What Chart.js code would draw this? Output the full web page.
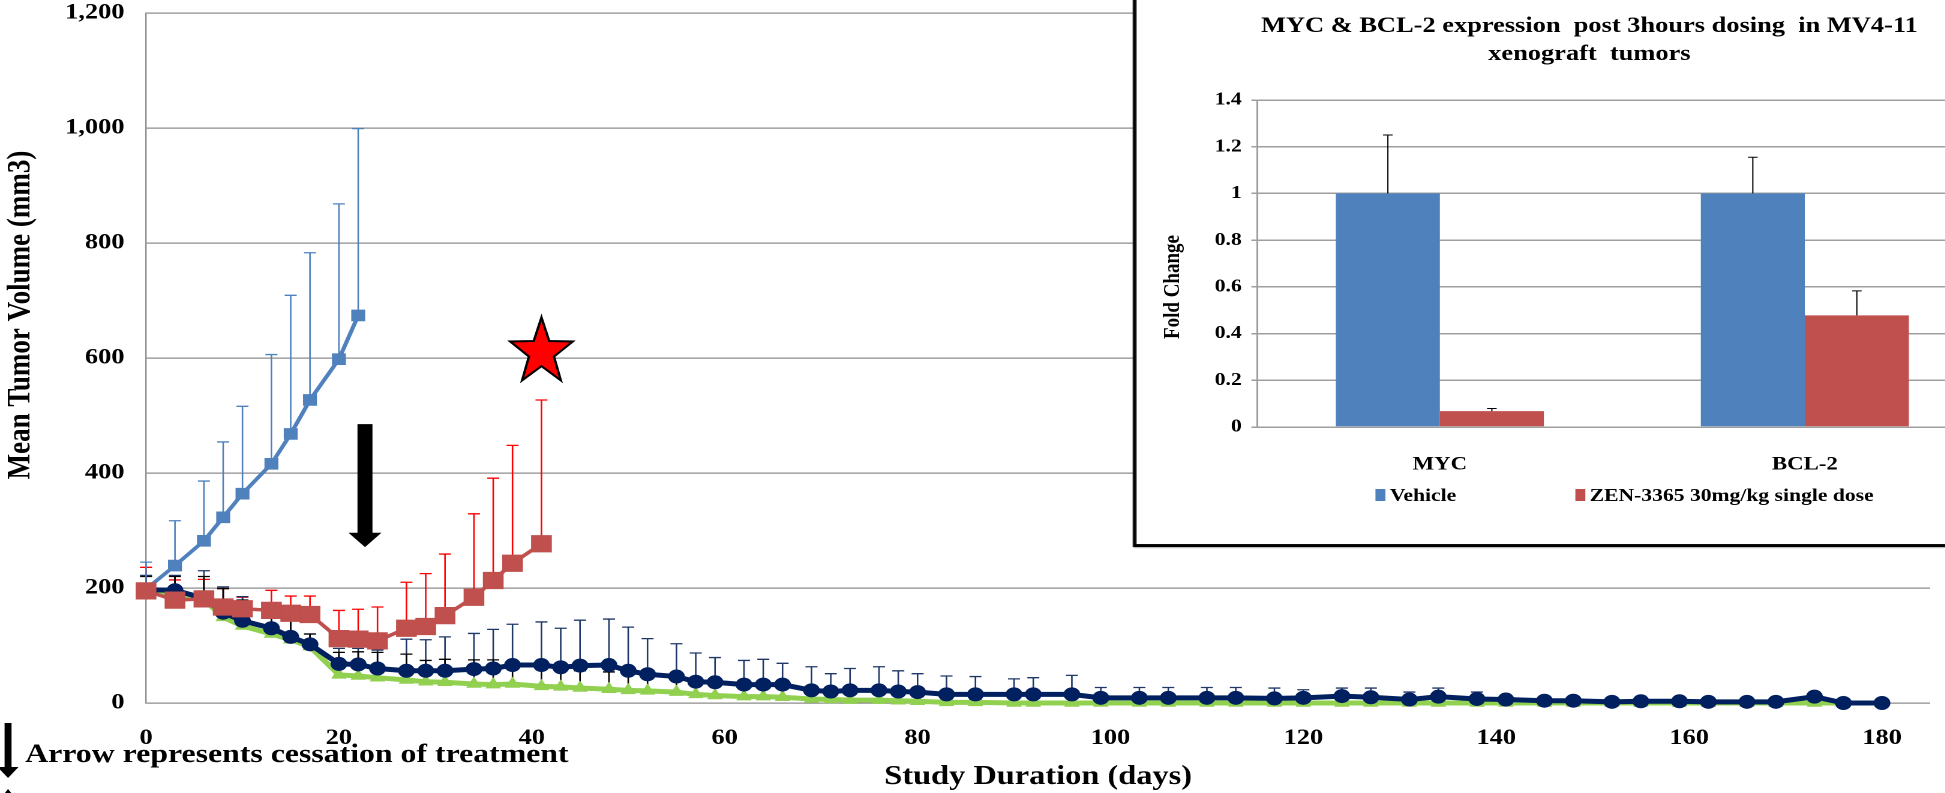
<!DOCTYPE html>
<html>
<head>
<meta charset="utf-8">
<script src="https://cdn.jsdelivr.net/npm/chart.js@4.4.1/dist/chart.umd.min.js"></script>
<style>
  html, body { margin: 0; padding: 0; background: #fff; overflow: hidden; }
  /* the original figure is stretched sideways, so the whole drawing is too */
  #wrap { position: relative; width: 1621px; height: 793px; transform: scaleX(1.2); transform-origin: 0 0; }
  #main { position: absolute; left: 0; top: 0; width: 1621px; height: 793px; }
  #insetBox { position: absolute; left: 944px; top: -3px; width: 800px; height: 550px; box-sizing: border-box;
              border: 3px solid #000; background: #fff; box-shadow: 1px 1px 1px #bbb; }
  #inset { position: absolute; left: 947px; top: 0; width: 720px; height: 544px; }
</style>
</head>
<body>
<div id="wrap">
  <canvas id="main" width="1621" height="793"></canvas>
  <div id="insetBox"></div>
  <canvas id="inset" width="720" height="544"></canvas>
</div>
<script>
const FONT = '"Liberation Serif", "Times New Roman", serif';

// main chart: tumour volume over time
const vehicleDays = [0, 3, 6, 8, 10, 13, 15, 17, 20, 22];
const vehicleMean = [198, 239, 282, 323, 364, 416, 468, 527, 598, 674];
const vehicleSem = [47, 78, 104, 131, 152, 190, 241, 256, 270, 325];

const zenDays = [0, 3, 6, 8, 10, 13, 15, 17, 20, 22, 24, 27, 29, 31, 34, 36, 38, 41];
const zenMean = [195, 179, 181, 167, 164, 161, 156, 154, 112, 111, 108, 130, 133, 152, 184, 213, 243, 277];
const zenSem = [41, 35, 34, 32, 20, 35, 30, 32, 49, 52, 59, 80, 92, 107, 145, 178, 205, 250];

const longDays = [0, 3, 6, 8, 10, 13, 15, 17, 20, 22,
  24, 27, 29, 31, 34, 36, 38, 41, 43, 45,
  48, 50, 52, 55, 57, 59, 62, 64, 66, 69,
  71, 73, 76, 78, 80, 83, 86, 90, 92, 96,
  99, 103, 106, 110, 113, 117, 120, 124, 127, 131,
  134, 138, 141, 145, 148, 152, 155, 159, 162, 166,
  169, 173, 176, 180];
const navyMean = [197, 196, 182, 157, 143, 130, 115, 102, 68, 67,
  60, 56, 56, 56, 59, 60, 66, 66, 62, 65,
  66, 56, 50, 46, 37, 36, 32, 32, 32, 22,
  20, 22, 22, 20, 19, 15, 15, 15, 15, 15,
  9, 9, 9, 9, 9, 8, 9, 12, 10, 6,
  11, 7, 6, 4, 4, 2, 3, 3, 2, 2,
  2, 11, 0, 0];
const navySem = [25, 26, 48, 45, 42, 40, 45, 18, 27, 28,
  32, 55, 54, 59, 62, 68, 71, 75, 68, 79,
  80, 76, 62, 57, 50, 43, 42, 44, 37, 41,
  31, 38, 41, 36, 32, 32, 31, 27, 29, 33,
  18, 18, 18, 18, 18, 18, 14, 14, 16, 13,
  15, 12, 4, 4, 4, 4, 4, 4, 4, 4,
  4, 8, 3, 3];
const greenMean = [195, 190, 180, 149, 134, 120, 110, 98, 49, 47,
  44, 40, 37, 36, 33, 32, 33, 29, 28, 26,
  24, 22, 21, 19, 15, 13, 11, 11, 10, 7,
  6, 5, 5, 4, 3, 1, 1, 0, 0, 0,
  0, 0, 0, 0, 0, 0, 0, 0, 0, 0,
  0, 0, 0, 0, 0, 0, 0, 0, 0, 0,
  0, 0, 0, 0];
const greenSem = [25, 30, 40, 50, 45, 40, 40, 22, 39, 42,
  44, 45, 37, 40, 42, 43, 30, 30, 28, 30,
  30, 28, 26, 24, 22, 20, 18, 18, 16, 14,
  12, 12, 10, 10, 8, 6, 5, 2, 2, 2,
  2, 2, 2, 2, 2, 2, 2, 2, 2, 2,
  2, 2, 2, 2, 2, 2, 2, 2, 2, 2,
  2, 2, 2, 2];

const xTicks = [0, 20, 40, 60, 80, 100, 120, 140, 160, 180];
const yTicks = [0, 200, 400, 600, 800, 1000, 1200];

// annotations, in data units
const stopDay = 22.7;          // big arrow: treatment stopped
const arrowTop = 485, arrowNeck = 296, arrowTip = 271;
const starDay = 41, starValue = 610;

// inset: fold change bars
const geneLabels = ['MYC', 'BCL-2'];
const vehicleFold = [1.0, 1.0];
const vehicleFoldErr = [0.25, 0.155];
const zenFold = [0.068, 0.478];
const zenFoldErr = [0.011, 0.105];
const foldTicks = [0, 0.2, 0.4, 0.6, 0.8, 1, 1.2, 1.4];

function toPoints(days, vals) {
  return days.map((d, i) => ({x: d, y: vals[i]}));
}

const lineErrors = {
  id: 'lineErrors',
  beforeDatasetsDraw(chart) {
    const {ctx, scales: {x, y}} = chart;
    chart.data.datasets.forEach(ds => {
      if (!ds.errors) return;
      ctx.save();
      ctx.strokeStyle = ds.errorColor;
      ctx.lineWidth = 1.3;
      ds.data.forEach((p, i) => {
        const e = ds.errors[i];
        if (!e) return;
        const px = x.getPixelForValue(p.x);
        const py = y.getPixelForValue(p.y);
        const top = y.getPixelForValue(p.y + e);
        ctx.beginPath();
        ctx.moveTo(px, py); ctx.lineTo(px, top);
        ctx.moveTo(px - 5, top); ctx.lineTo(px + 5, top);
        ctx.stroke();
      });
      ctx.restore();
    });
  }
};

function downArrow(ctx, cx, top, neck, tip, shaftW, headW) {
  ctx.beginPath();
  ctx.moveTo(cx - shaftW / 2, top);
  ctx.lineTo(cx + shaftW / 2, top);
  ctx.lineTo(cx + shaftW / 2, neck);
  ctx.lineTo(cx + headW / 2, neck);
  ctx.lineTo(cx, tip);
  ctx.lineTo(cx - headW / 2, neck);
  ctx.lineTo(cx - shaftW / 2, neck);
  ctx.closePath();
  ctx.fill();
}

const mainDecor = {
  id: 'mainDecor',
  afterDraw(chart) {
    const {ctx, scales: {x, y}} = chart;
    ctx.save();
    ctx.fillStyle = '#000';
    ctx.font = 'bold 27px ' + FONT;

    // y title
    ctx.save();
    ctx.translate(17.5, 315);
    ctx.rotate(-Math.PI / 2);
    ctx.textAlign = 'center';
    ctx.textBaseline = 'middle';
    ctx.fillText('Mean Tumor Volume (mm3)', 0, 0);
    ctx.restore();

    // note under the axis
    ctx.font = 'bold 26.5px ' + FONT;
    ctx.textAlign = 'left';
    ctx.textBaseline = 'alphabetic';
    ctx.fillText('Arrow represents cessation of treatment', 21, 762);
    downArrow(ctx, 6.7, 723, 767, 778, 5.8, 17.5);
    ctx.beginPath();
    ctx.moveTo(6.7, 789); ctx.lineTo(10, 794); ctx.lineTo(3.4, 794); ctx.closePath();
    ctx.fill();

    // arrow at the end of treatment
    downArrow(ctx, x.getPixelForValue(stopDay), y.getPixelForValue(arrowTop),
      y.getPixelForValue(arrowNeck), y.getPixelForValue(arrowTip), 12.5, 27.5);

    // star
    const cx = x.getPixelForValue(starDay), cy = y.getPixelForValue(starValue);
    ctx.beginPath();
    for (let i = 0; i < 10; i++) {
      const a = -Math.PI / 2 + i * Math.PI / 5;
      const k = i % 2 ? 0.4 : 1;
      ctx.lineTo(cx + Math.cos(a) * 27.5 * k, cy + Math.sin(a) * 34.8 * k);
    }
    ctx.closePath();
    ctx.fillStyle = '#ff0000';
    ctx.fill();
    ctx.lineWidth = 2;
    ctx.strokeStyle = '#000';
    ctx.stroke();
    ctx.restore();
  }
};

new Chart(document.getElementById('main'), {
  type: 'line',
  data: {
    datasets: [
      {
        label: 'ZEN-3365 (dosing stopped)', data: toPoints(zenDays, zenMean),
        errors: zenSem, errorColor: '#ff0000',
        borderColor: '#C0504D', backgroundColor: '#C0504D', borderWidth: 3.5,
        pointStyle: 'rect', pointRadius: 11.5, pointBorderWidth: 1, order: 0, clip: false
      },
      {
        label: 'ZEN-3365 group 2', data: toPoints(longDays, navyMean),
        errors: navySem, errorColor: '#1f3868',
        borderColor: '#002060', backgroundColor: '#002060', borderWidth: 5,
        pointStyle: 'circle', pointRadius: 6.5, pointBorderWidth: 1, order: 1, clip: false
      },
      {
        label: 'ZEN-3365 group 3', data: toPoints(longDays, greenMean),
        errors: greenSem, errorColor: '#000',
        borderColor: '#92D050', backgroundColor: '#92D050', borderWidth: 5,
        pointStyle: 'triangle', pointRadius: 6.5, pointBorderWidth: 1, order: 2, clip: false
      },
      {
        label: 'Vehicle', data: toPoints(vehicleDays, vehicleMean),
        errors: vehicleSem, errorColor: '#4F81BD',
        borderColor: '#4F81BD', backgroundColor: '#4F81BD', borderWidth: 3.5,
        pointStyle: 'rect', pointRadius: 7.5, pointBorderWidth: 1, order: 3, clip: false
      }
    ]
  },
  options: {
    responsive: false,
    animation: false,
    devicePixelRatio: 2,
    layout: {padding: {top: 13, left: 0, right: 0, bottom: 0}},
    plugins: {legend: {display: false}, tooltip: {enabled: false}},
    scales: {
      x: {
        type: 'linear', min: 0, max: 185,
        afterFit: s => { s.height = 90; },
        afterBuildTicks: s => { s.ticks = xTicks.map(v => ({value: v})); },
        grid: {display: false},
        border: {display: false},
        ticks: {color: '#000', padding: 14, maxRotation: 0, autoSkip: false,
                font: {family: FONT, size: 22, weight: 'bold'}},
        title: {display: true, text: 'Study Duration (days)', color: '#000', padding: {top: 0, bottom: 0},
                font: {family: FONT, size: 27, weight: 'bold', lineHeight: 1.2}}
      },
      y: {
        min: 0, max: 1200,
        afterFit: s => { s.width = 121.7; s.paddingTop = 0; s.paddingBottom = 0; },
        afterBuildTicks: s => { s.ticks = yTicks.map(v => ({value: v})); },
        grid: {color: '#8c8c8c', lineWidth: 1.2, drawTicks: false},
        border: {color: '#8c8c8c', width: 1.2},
        ticks: {color: '#000', padding: 18, autoSkip: false,
                callback: v => v.toLocaleString('en-US'),
                font: {family: FONT, size: 22, weight: 'bold'}}
      }
    }
  },
  plugins: [lineErrors, mainDecor]
});

const insetDecor = {
  id: 'insetDecor',
  afterDatasetsDraw(chart) {
    const {ctx, scales: {y}} = chart;
    ctx.save();
    ctx.strokeStyle = '#000';
    ctx.lineWidth = 1;
    chart.data.datasets.forEach((ds, di) => {
      chart.getDatasetMeta(di).data.forEach((bar, i) => {
        const top = y.getPixelForValue(ds.data[i] + ds.errors[i]);
        const base = y.getPixelForValue(ds.data[i]);
        ctx.beginPath();
        ctx.moveTo(bar.x, base); ctx.lineTo(bar.x, top);
        ctx.moveTo(bar.x - 4, top); ctx.lineTo(bar.x + 4, top);
        ctx.stroke();
      });
    });
    ctx.restore();
  },
  afterDraw(chart) {
    const {ctx} = chart;
    ctx.save();
    ctx.fillStyle = '#000';
    ctx.textAlign = 'center';
    ctx.font = 'bold 22px ' + FONT;
    ctx.fillText('MYC & BCL-2 expression  post 3hours dosing  in MV4-11', 377.5, 32);
    ctx.fillText('xenograft  tumors', 377.5, 60);

    ctx.save();
    ctx.translate(30.8, 287);
    ctx.rotate(-Math.PI / 2);
    ctx.font = 'bold 19px ' + FONT;
    ctx.textBaseline = 'middle';
    ctx.fillText('Fold Change', 0, 0);
    ctx.restore();

    // legend
    const boxX = [199.2, 365.8];
    ctx.font = 'bold 18px ' + FONT;
    ctx.textAlign = 'left';
    chart.data.datasets.forEach((ds, i) => {
      ctx.fillStyle = ds.backgroundColor;
      ctx.fillRect(boxX[i], 489, 8.3, 12);
      ctx.fillStyle = '#000';
      ctx.fillText(ds.label, boxX[i] + 12, 501);
    });
    ctx.restore();
  }
};

new Chart(document.getElementById('inset'), {
  type: 'bar',
  data: {
    labels: geneLabels,
    datasets: [
      {label: 'Vehicle', data: vehicleFold, errors: vehicleFoldErr, backgroundColor: '#4F81BD'},
      {label: 'ZEN-3365 30mg/kg single dose', data: zenFold, errors: zenFoldErr, backgroundColor: '#C0504D'}
    ]
  },
  options: {
    responsive: false,
    animation: false,
    devicePixelRatio: 2,
    categoryPercentage: 0.57,
    barPercentage: 1,
    layout: {padding: {top: 100, left: 0, right: 10.9, bottom: 0}},
    plugins: {legend: {display: false}, tooltip: {enabled: false}},
    scales: {
      x: {
        afterFit: s => { s.height = 117; },
        grid: {display: false},
        border: {display: false},
        ticks: {color: '#000', padding: 18, font: {family: FONT, size: 19, weight: 'bold'}}
      },
      y: {
        min: 0, max: 1.4,
        afterFit: s => { s.width = 100.8; },
        afterBuildTicks: s => { s.ticks = foldTicks.map(v => ({value: v})); },
        grid: {color: '#9e9e9e', lineWidth: 1.5, tickLength: 5},
        border: {color: '#9e9e9e', width: 1.5},
        ticks: {color: '#000', padding: 8, autoSkip: false,
                callback: v => String(Number(v.toFixed(1))),
                font: {family: FONT, size: 18, weight: 'bold'}}
      }
    }
  },
  plugins: [insetDecor]
});
</script>
</body>
</html>
